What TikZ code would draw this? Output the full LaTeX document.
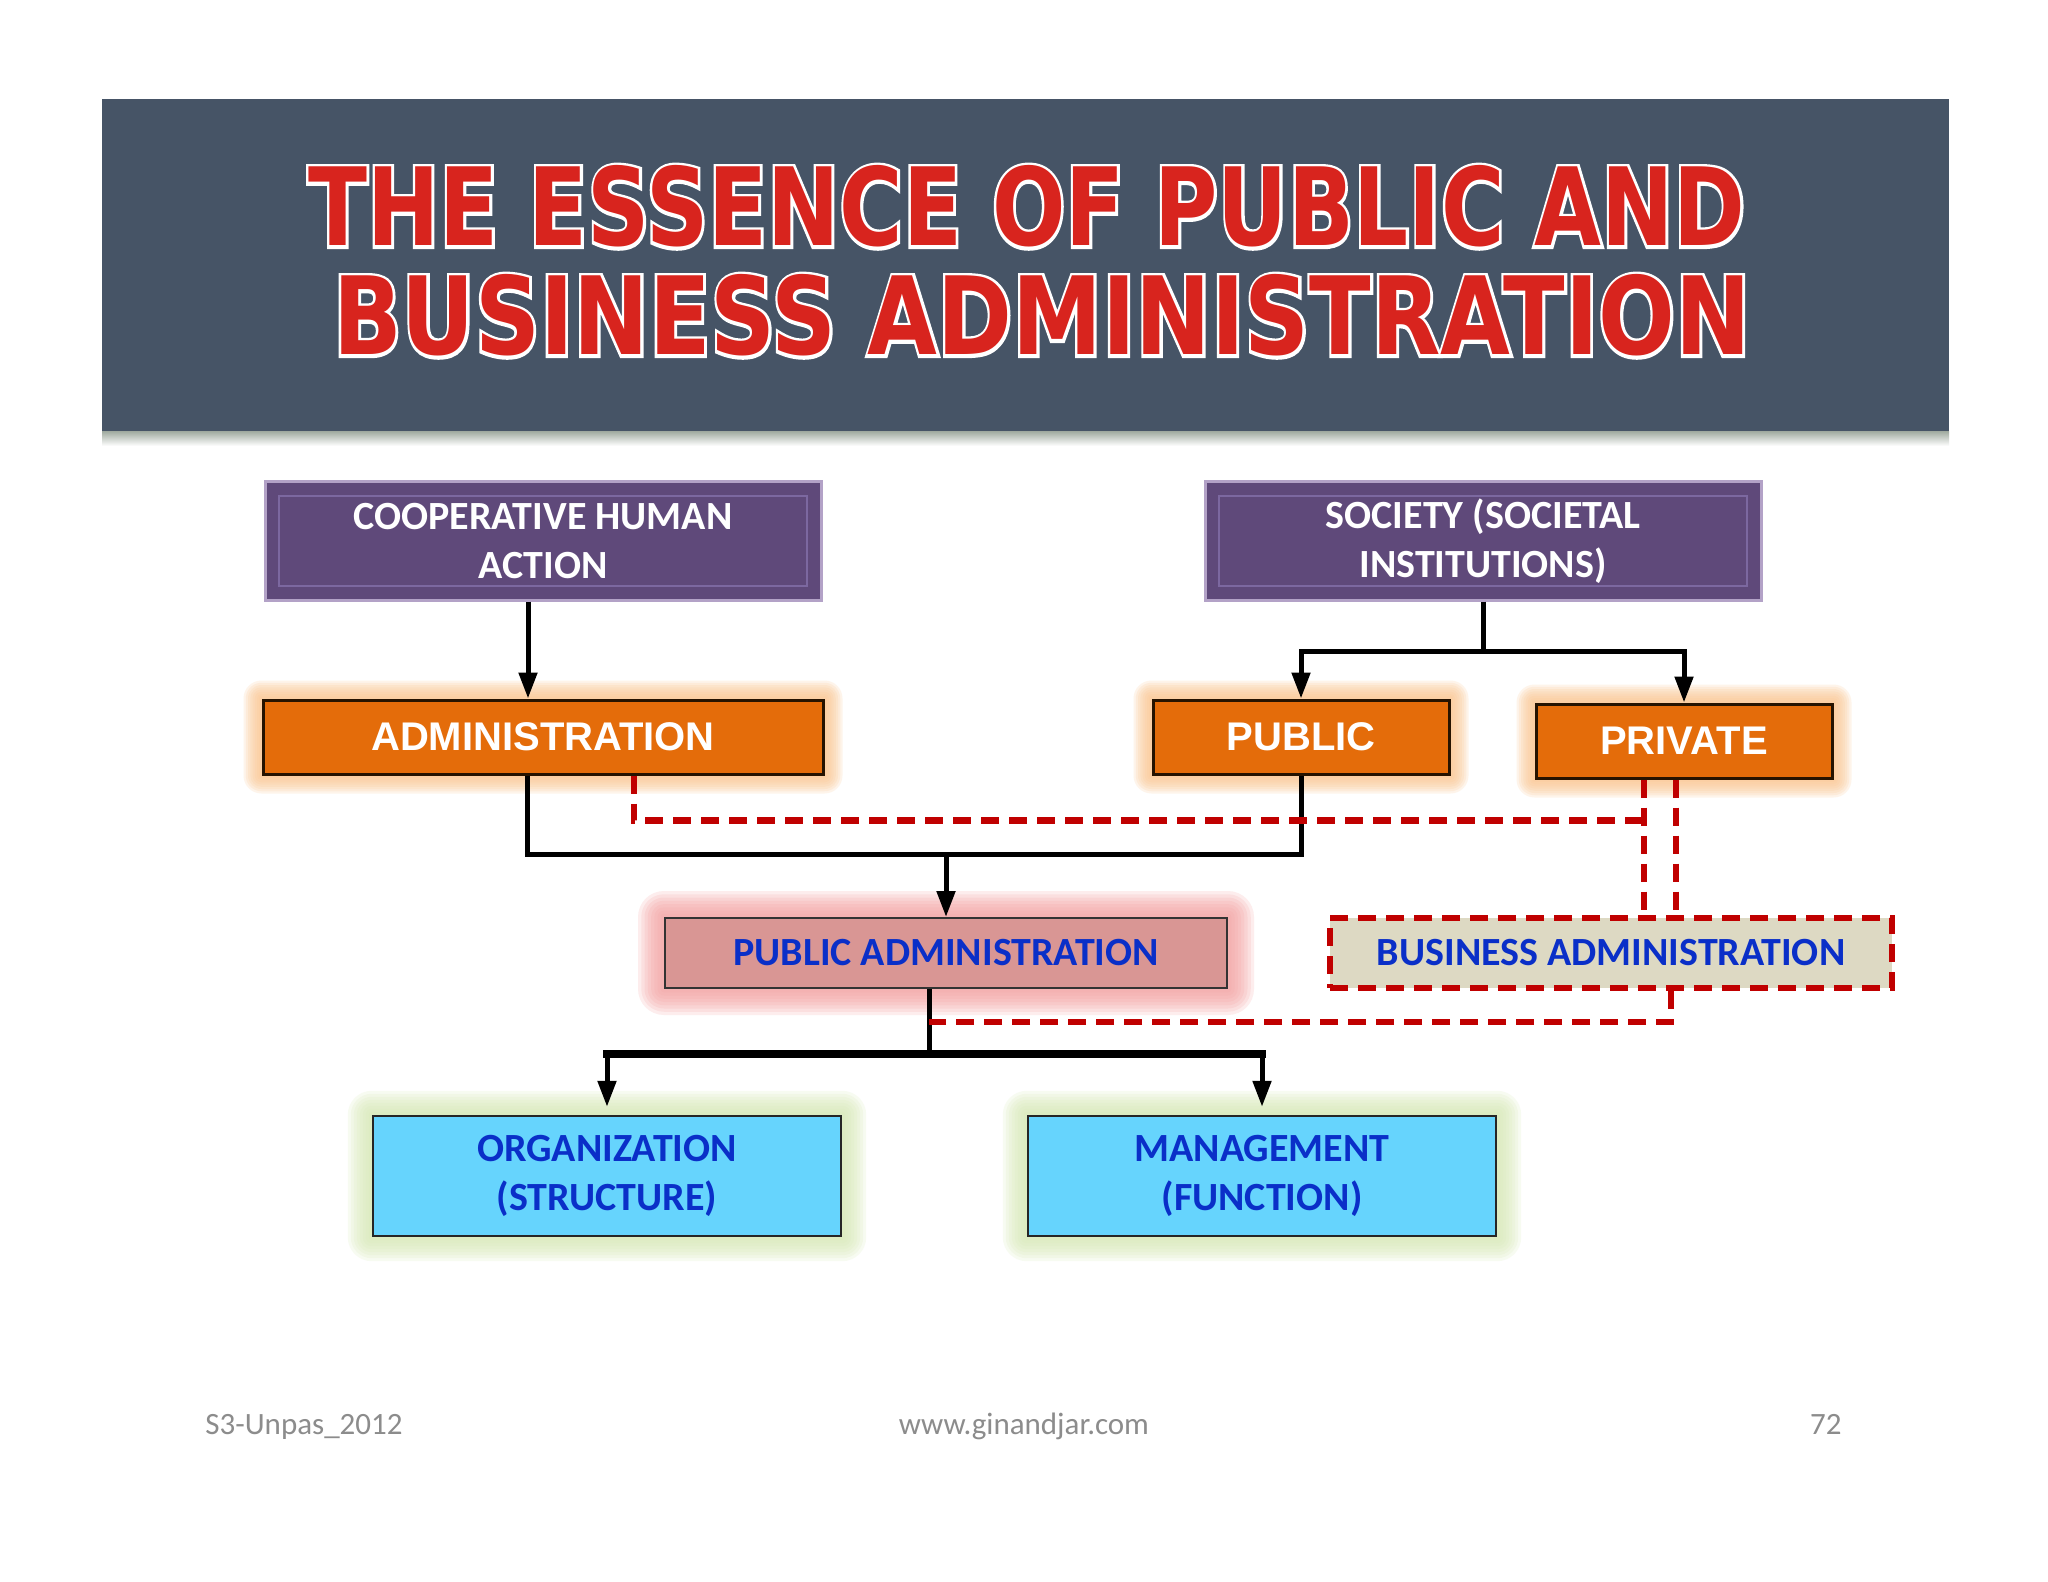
\documentclass[tikz,border=0pt]{standalone}
\usepackage{fontspec}
\usepackage{graphicx}
\usetikzlibrary{arrows.meta,backgrounds}
\newfontfamily\carlito{Carlito}
\newfontfamily\arialfont{Liberation Sans}
\newfontfamily\titlefont{DejaVu Sans Bold}
\newfontfamily\titleedge[FakeBold=6]{DejaVu Sans Bold}
\definecolor{bannerblue}{HTML}{465466}
\definecolor{stripgray}{HTML}{A5AFA5}
\definecolor{titlered}{HTML}{D8241E}
\definecolor{purplefill}{HTML}{5F497A}
\definecolor{purpleedge}{HTML}{B3A2C7}
\definecolor{purpleinner}{HTML}{7C68A0}
\definecolor{orangefill}{HTML}{E46C0A}
\definecolor{orangeglow}{HTML}{FBC58F}
\definecolor{pinkfill}{HTML}{D99694}
\definecolor{pinkglow}{HTML}{F4A0A0}
\definecolor{beigefill}{HTML}{DDD9C3}
\definecolor{cyanfill}{HTML}{66D4FD}
\definecolor{greenglow}{HTML}{D7E9B5}
\definecolor{textblue}{HTML}{0A2FC8}
\definecolor{dashred}{HTML}{C00000}
\definecolor{footgray}{HTML}{8C8C8C}
\newcommand{\titleline}[4]{%
  \node[titletext, text=white, font=\titleedge\fontsize{54}{60}\selectfont] (#1w) at (#2) {\scalebox{#3}[1]{#4}};
  \node[titletext, text=titlered] (#1) at (#2) {\scalebox{#3}[1]{#4}};}
\newcommand{\boxglow}[3]{%
  \begin{pgfonlayer}{background}
    \foreach \k in {1,...,8}{
      \pgfmathsetmacro{\rr}{#3*\k/8}
      \fill[#2, opacity=0.18, rounded corners=\rr pt] ([xshift=-\rr pt, yshift=-\rr pt]#1.south west) rectangle ([xshift=\rr pt, yshift=\rr pt]#1.north east);
    }
  \end{pgfonlayer}}
\tikzstyle{titletext} = [font=\titlefont\fontsize{54}{60}\selectfont, anchor=base, inner sep=0pt]
\tikzstyle{purplebox} = [rectangle, minimum width=278pt, minimum height=59pt, align=center, draw=purpleedge, line width=1.5pt, fill=purplefill, text=white, font=\carlito\bfseries\fontsize{20}{24.5}\selectfont, path picture={\draw[purpleinner, line width=1pt] ([xshift=7pt,yshift=7pt]path picture bounding box.south west) rectangle ([xshift=-7pt,yshift=-7pt]path picture bounding box.north east);}]
\tikzstyle{orangebox} = [rectangle, minimum height=37pt, text centered, draw=black!85!orange, line width=1.5pt, fill=orangefill, text=white, font=\arialfont\bfseries\fontsize{20}{24}\selectfont]
\tikzstyle{pinkbox} = [rectangle, minimum width=281pt, minimum height=35pt, text centered, draw=black!80, line width=1pt, fill=pinkfill, text=textblue, font=\carlito\bfseries\fontsize{20}{24}\selectfont]
\tikzstyle{bizbox} = [rectangle, minimum width=281pt, minimum height=35pt, text centered, draw=dashred, line width=3.2pt, dash pattern=on 9pt off 5pt, fill=beigefill, text=textblue, font=\carlito\bfseries\fontsize{20}{24}\selectfont]
\tikzstyle{cyanbox} = [rectangle, minimum width=234pt, minimum height=60pt, align=center, draw=black!85, line width=1.2pt, fill=cyanfill, text=textblue, font=\carlito\bfseries\fontsize{20}{24.5}\selectfont]
\tikzstyle{foot} = [font=\carlito\fontsize{15.5}{18}\selectfont, text=footgray, inner sep=0pt]
\tikzstyle{link} = [line width=2.5pt]
\tikzstyle{arrow} = [link, ->, >={Triangle[length=13pt, width=9pt]}]
\tikzstyle{reddash} = [draw=dashred, line width=3.2pt, dash pattern=on 9pt off 5pt]

\begin{document}
\begin{tikzpicture}[x=0.5pt, y=-0.5pt, node distance=100pt]
	\begin{pgfonlayer}{background}
		\fill[white] (0,0) rectangle (2048,1582);
	\end{pgfonlayer}
	\useasboundingbox (0,0) rectangle (2048,1582);
	
	% title banner
	\fill[bannerblue] (102,99) rectangle (1949,432);
	\shade[top color=stripgray, bottom color=white] (102,432) rectangle (1949,446);
	\titleline{title1}{1027,246}{0.8}{THE ESSENCE OF PUBLIC AND}
	\titleline{title2}{1042,355}{0.835}{BUSINESS ADMINISTRATION}
	
	\node (coop) [purplebox] at (543,541) {COOPERATIVE HUMAN\\ACTION};
	\node (society) [purplebox, right of = coop, xshift = 370pt] {SOCIETY (SOCIETAL\\INSTITUTIONS)};
	\node (admin) [orangebox, minimum width=280pt, below of = coop, yshift = 2pt] {ADMINISTRATION};
	\node (public) [orangebox, minimum width=148pt, below of = society, xshift = -91pt, yshift = 2pt] {PUBLIC};
	\node (private) [orangebox, minimum width=148pt, right of = public, xshift = 91.5pt, yshift = -2pt] {PRIVATE};
	\node (pa) [pinkbox, below of = admin, xshift = 201.5pt, yshift = -8pt] {PUBLIC ADMINISTRATION};
	\node (ba) [bizbox, right of = pa, xshift = 232.5pt] {BUSINESS ADMINISTRATION};
	\node (org) [cyanbox, below of = pa, xshift = -169.5pt, yshift = -11.5pt] {ORGANIZATION\\(STRUCTURE)};
	\node (man) [cyanbox, right of = org, xshift = 227.5pt] {MANAGEMENT\\(FUNCTION)};
	
	\boxglow{admin}{orangeglow}{9}
	\boxglow{public}{orangeglow}{9}
	\boxglow{private}{orangeglow}{9}
	\boxglow{pa}{pinkglow}{13}
	\boxglow{org}{greenglow}{12}
	\boxglow{man}{greenglow}{12}
	
	\coordinate (socjoin) at ([yshift=-25pt]society.south);
	\coordinate (adstem) at ([xshift=-8pt]admin.south);
	\coordinate (adjoin) at ([xshift=-8pt, yshift=-39.5pt]admin.south);
	\coordinate (pastem) at ([xshift=-8.5pt]pa.south);
	\coordinate (pajoin) at ([xshift=-8.5pt, yshift=-32.5pt]pa.south);
	\coordinate (rdstart) at ([xshift=45.5pt]admin.south);
	\coordinate (rdA) at ([xshift=-20pt]private.south);
	\coordinate (rdB) at ([xshift=-4pt]private.south);
	\coordinate (badrop) at ([xshift=30pt]ba.south);
	
	\draw [arrow] ([xshift=-7.5pt]coop.south) -- ([xshift=-7.5pt]admin.north);
	\draw [link] (society.south) -- (socjoin);
	\draw [arrow] (socjoin) -| (public.north);
	\draw [arrow] (socjoin) -| (private.north);
	\draw [link] (adstem) -- (adjoin) -| (public.south);
	\draw [arrow] (adjoin -| pa.north) -- (pa.north);
	\draw [link] (pastem) -- (pajoin);
	\draw [link, line width=4pt, line cap=rect] (pajoin -| org.north) -- (pajoin -| man.north);
	\draw [arrow, shorten >=4pt] (pajoin -| org.north) -- (org.north);
	\draw [arrow, shorten >=4pt] (pajoin -| man.north) -- (man.north);
	
	\draw [reddash] (rdstart) -- ++(0,45) coordinate (rdcorner) -- (rdcorner -| rdA);
	\draw [reddash] (rdA) -- (rdA |- ba.north);
	\draw [reddash] (rdB) -- (rdB |- ba.north);
	\draw [reddash] (badrop) -- ++(0,31) coordinate (bacorner) -- (bacorner -| pastem);
	
	% footer
	\node (footl) [foot, anchor=base west] at (205,1434) {S3-Unpas\_2012};
	\node (footc) [foot, anchor=base] at (1024,1434) {www.ginandjar.com};
	\node (footr) [foot, anchor=base east] at (1842,1434) {72};
\end{tikzpicture}
\end{document}
